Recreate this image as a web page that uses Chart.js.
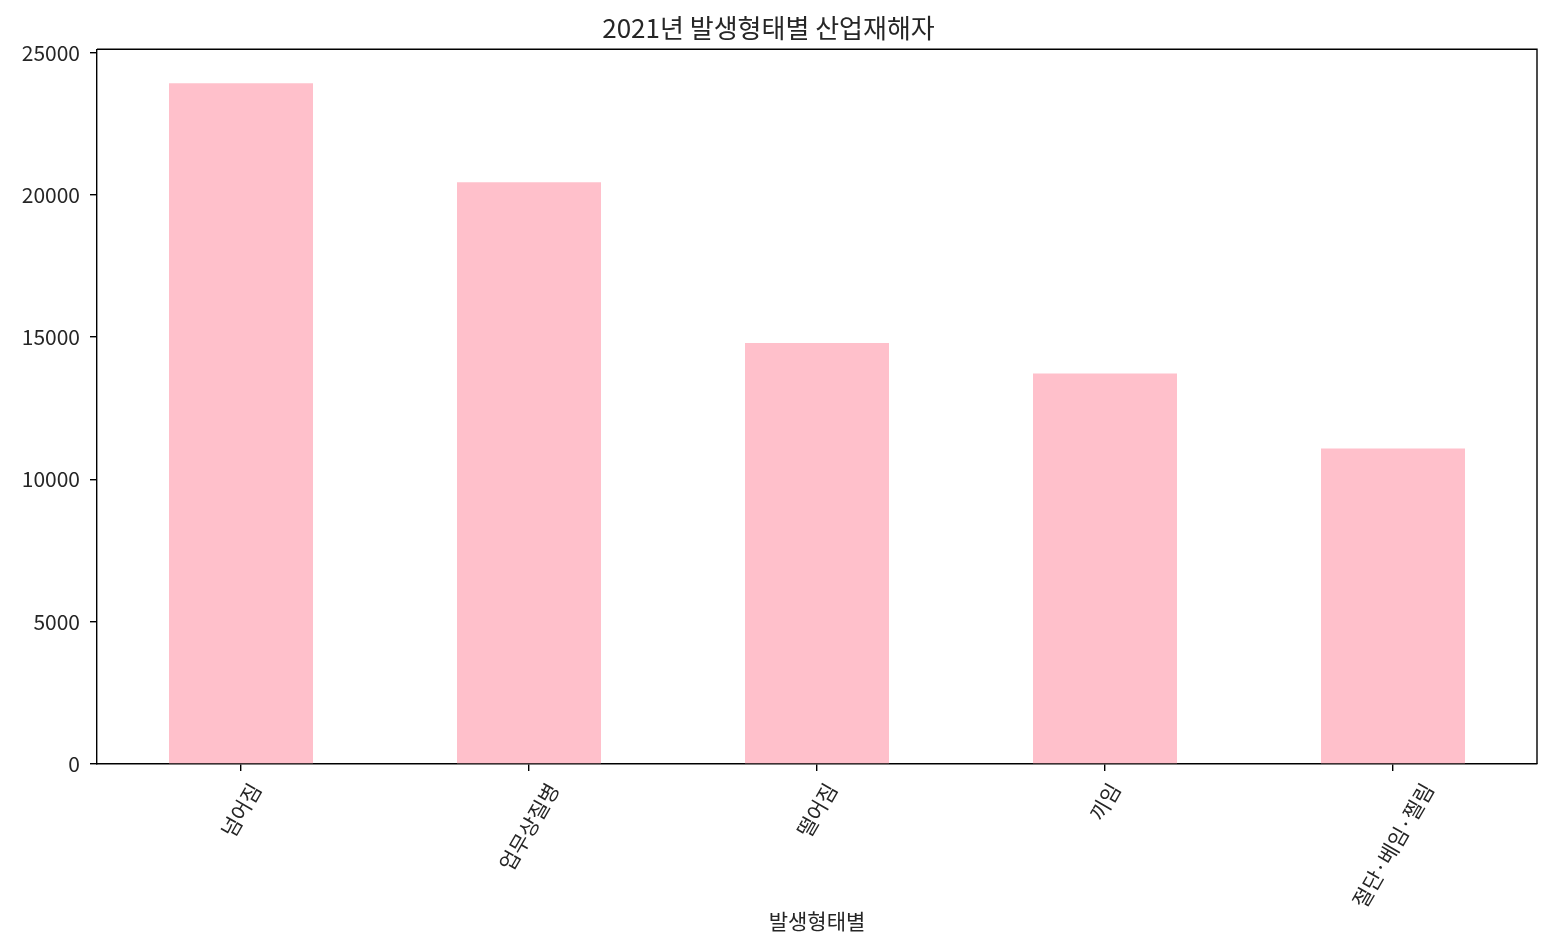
<!DOCTYPE html>
<html>
<head>
<meta charset="utf-8">
<script src="https://cdn.jsdelivr.net/npm/chart.js@4"></script>
<style>
  body { margin: 0; background: #fff; }
</style>
</head>
<body>
<canvas id="myChart" width="1550" height="948"></canvas>
<script>
// data
let categories = ['넘어짐', '업무상질병', '떨어짐', '끼임', '절단·베임·찔림'];
let workers = [23922, 20446, 14793, 13718, 11085];
let yTicks = [0, 5000, 10000, 15000, 20000, 25000];

let fontName = "'Noto Sans CJK KR', 'Noto Sans', sans-serif";
let textColor = '#262626';

// rotated x labels, centred on the tick like matplotlib does
let xLabels = {
  id: 'xLabels',
  afterDraw(chart) {
    let ctx = chart.ctx;
    let xs = chart.scales.x;
    let area = chart.chartArea;
    let ang = 60 * Math.PI / 180;
    ctx.save();
    ctx.font = '21px ' + fontName;
    ctx.fillStyle = textColor;
    for (let i = 0; i < categories.length; i++) {
      let x = xs.getPixelForTick(i);
      let L = ctx.measureText(categories[i]).width;
      let h = 20;
      let H = L * Math.sin(ang) + h * Math.cos(ang);
      let cy = area.bottom + 16 + H / 2;
      ctx.save();
      ctx.translate(x, cy);
      ctx.rotate(-ang);
      ctx.textAlign = 'center';
      ctx.textBaseline = 'middle';
      ctx.fillText(categories[i], 0, 0);
      ctx.restore();
    }
    // top and right spines
    ctx.strokeStyle = '#000';
    ctx.lineWidth = 1.4;
    ctx.beginPath();
    ctx.moveTo(area.left, area.top);
    ctx.lineTo(area.right, area.top);
    ctx.lineTo(area.right, area.bottom);
    ctx.stroke();
    ctx.restore();
  }
};

let ctx = document.getElementById('myChart').getContext('2d');
let chart = new Chart(ctx, {
  type: 'bar',
  data: {
    labels: categories,
    datasets: [{
      label: '산업재해자',
      data: workers,
      backgroundColor: 'pink',
      borderWidth: 0,
      barPercentage: 0.5,
      categoryPercentage: 1
    }]
  },
  options: {
    responsive: false,
    animation: false,
    layout: { padding: { left: 0, right: 13, top: 0, bottom: 0 } },
    plugins: {
      legend: { display: false },
      tooltip: { enabled: false },
      title: {
        display: true,
        text: '2021년 발생형태별 산업재해자',
        color: textColor,
        font: { family: fontName, size: 26, weight: 'normal' },
        padding: { top: 13, bottom: 5 }
      }
    },
    scales: {
      x: {
        offset: true,
        grid: { display: true, offset: false, drawOnChartArea: false, drawTicks: true, tickLength: 7, color: '#000', lineWidth: 1.4 },
        border: { display: true, color: '#000', width: 1.4 },
        ticks: { display: false, autoSkip: false },
        title: {
          display: true,
          text: '발생형태별',
          color: textColor,
          font: { family: fontName, size: 21 },
          padding: { top: 0, bottom: 14 }
        },
        afterFit(scale) { scale.height = 184; }
      },
      y: {
        min: 0,
        max: Math.max(...workers) * 1.05,
        grid: { display: true, drawOnChartArea: false, drawTicks: true, tickLength: 7, color: '#000', lineWidth: 1.4 },
        border: { display: true, color: '#000', width: 1.4 },
        afterBuildTicks(scale) { scale.ticks = yTicks.map(v => ({ value: v })); },
        ticks: {
          color: textColor,
          padding: 10,
          font: { family: fontName, size: 21 },
          callback: v => String(v)
        },
        afterFit(scale) { scale.width = 97; }
      }
    }
  },
  plugins: [xLabels]
});
</script>
</body>
</html>
